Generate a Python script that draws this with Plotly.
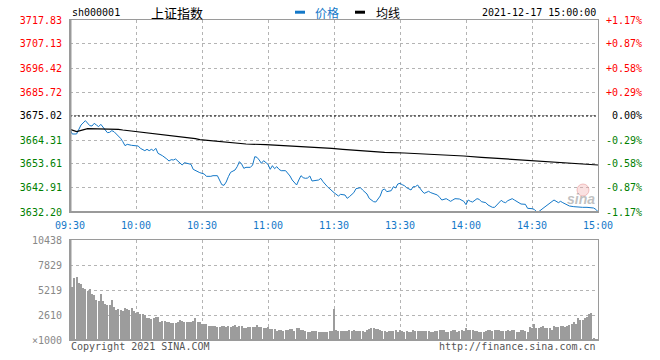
import plotly.graph_objects as go

# ---------------- data ----------------
pre_close = 3675.02
price_ticks = [3632.20, 3642.91, 3653.61, 3664.31, 3675.02, 3685.72, 3696.42, 3707.13, 3717.83]
pct_labels = ["-1.17%", "-0.87%", "-0.58%", "-0.29%", "0.00%", "+0.29%", "+0.58%", "+0.87%", "+1.17%"]
time_ticks = [0, 30, 60, 90, 120, 150, 180, 210, 240]
time_labels = ["09:30", "10:00", "10:30", "11:00", "11:30", "13:30", "14:00", "14:30", "15:00"]
vol_ticks = [0, 2610, 5219, 7829, 10438]
vol_labels = ["×1000", "2610", "5219", "7829", "10438"]

price_min = [0,1,3,4,5,7,8,9,10,11,12,13,14,15,16,17,18,19,20,21,22,23,24,25,26,28,31,32,34,35,36,37,38,39,40,42,44,45,46,47,48,50,51,52,54,55,56,58,
             59,61,62,64,65,67,68,69,70,71,72,73,75,76,77,78,79,80,82,83,84,85,86,87,88,90,91,92,93,94,95,96,98,99,100,101,103,104,105,106,107,108,109,110,112,113,114,115,117,118,119,120,
             122,123,125,126,127,129,130,132,133,135,136,138,139,141,142,143,144,146,147,148,149,150,151,152,153,155,156,157,158,159,160,161,162,163,164,165,167,168,169,170,171,172,173,174,175,177,178,179,180,181,
             182,183,185,186,187,189,190,192,193,195,196,197,198,199,201,202,204,205,207,208,210,211,212,213,215,217,218,219,220,222,223,224,225,227,229,230,233,235,236,238,239,240]
price_val = [3669.22,3666.99,3666.99,3668.77,3671.00,3672.93,3672.04,3670.70,3670.55,3671.74,3671.00,3670.26,3671.30,3669.96,3669.07,3667.58,3667.73,3668.47,3668.03,3666.99,3666.39,3665.05,3663.57,3661.78,3662.38,3661.93,3661.64,3660.59,3659.55,3660.15,3659.55,3660.15,3659.55,3660.59,3658.36,3657.32,3655.84,3654.94,3655.54,3655.39,3655.84,3654.20,3653.16,3654.20,3653.76,3653.46,3651.23,3650.19,
             3649.74,3649.15,3648.11,3648.11,3648.40,3648.40,3646.47,3644.39,3644.09,3645.58,3647.96,3649.89,3650.93,3652.42,3654.65,3653.61,3651.67,3652.12,3652.12,3653.16,3656.88,3656.58,3655.39,3653.90,3655.09,3653.46,3651.23,3652.86,3651.53,3652.42,3651.23,3650.63,3650.63,3649.44,3648.26,3646.47,3644.24,3646.47,3648.40,3647.51,3647.21,3647.36,3648.26,3646.03,3646.17,3646.47,3647.21,3645.73,3643.50,3642.46,3641.71,3640.82,
             3639.33,3640.08,3639.78,3638.29,3639.04,3640.82,3642.60,3643.05,3642.01,3640.23,3638.29,3636.81,3636.66,3639.33,3642.01,3642.46,3641.27,3641.71,3643.50,3642.90,3644.69,3644.98,3644.39,3643.94,3643.05,3642.01,3643.50,3643.50,3644.24,3642.75,3641.56,3640.52,3640.82,3641.42,3640.82,3640.52,3639.78,3638.74,3637.55,3637.85,3638.15,3637.55,3636.96,3637.55,3638.15,3638.00,3637.55,3636.96,3635.47,3637.55,
             3636.96,3636.66,3638.15,3637.85,3636.81,3636.36,3635.32,3634.28,3634.28,3636.07,3637.40,3636.66,3636.36,3637.25,3638.15,3637.55,3636.51,3635.77,3635.62,3633.84,3633.69,3633.39,3632.40,3632.30,3633.84,3635.32,3635.77,3636.66,3637.55,3636.36,3636.96,3636.36,3635.77,3634.88,3634.58,3634.43,3634.28,3634.28,3634.13,3633.98,3633.39,3632.36]

avg_min = [0,3,8,17,22,24,28,31,35,40,45,49,54,57,59,64,68,74,80,89,95,100,108,117,119,124,130,137,143,152,162,171,179,187,194,203,211,216,223,228,234,240]
avg_val = [3669.07,3668.03,3669.37,3669.37,3669.07,3668.77,3668.32,3667.73,3667.28,3666.84,3666.24,3665.80,3665.35,3664.91,3664.46,3664.01,3663.42,3662.97,3662.53,3662.23,3661.93,3661.49,3661.19,3660.89,3660.59,3660.15,3659.70,3659.26,3658.81,3658.51,3658.07,3657.77,3657.17,3656.58,3656.13,3655.69,3655.09,3654.65,3654.20,3653.90,3653.61,3653.16]

vol_am = [6575,5532,6506,6610,5914,5845,5392,5288,5114,5323,4801,4697,4175,4070,4801,4070,3723,3688,3618,4175,
          3444,3096,3201,3131,3027,3375,3235,3096,3305,3027,2783,2888,2748,2679,2609,2261,2261,2157,2331,2401,
          2366,1913,1983,1983,1913,1844,1774,1774,1774,1844,2087,1983,1913,1844,1913,1844,2018,2261,1913,1844,
          1705,1705,1635,1496,1461,1496,1461,1357,1357,1496,1496,1392,1461,1392,1461,1566,1392,1496,1496,1287,
          1287,1357,1357,1392,1357,1566,1392,1392,1218,1287,1392,1113,1148,1113,939,1009,1044,939,1009,1009,
          1148,1148,939,1218,1218,1009,1009,939,800,870,939,939,939,800,800,870,800,800,939,939]
vol_pm = [3235,1009,939,939,939,939,939,1044,939,1009,939,939,939,939,870,1044,1148,1218,1287,1148,
          1148,1044,939,939,870,939,939,939,1009,870,1009,939,870,939,870,870,1009,939,939,939,
          939,939,939,939,870,800,939,939,1044,1009,1009,870,870,939,1009,1078,870,939,1009,939,
          1218,1078,1009,1009,939,939,870,870,870,939,1009,1009,939,1009,1078,1009,939,939,939,1009,
          939,1009,1044,800,870,1009,1009,939,870,1357,1287,1635,1218,1287,1392,1496,1218,1287,1218,1078,
          1426,1392,1357,1426,1496,1392,1496,1566,1635,1844,1705,2261,2053,2087,2261,2401,2679,2818,174,0,0]
vol_val = vol_am + vol_pm
vol_min = list(range(len(vol_val)))

# ---------------- style ----------------
MONO = "DejaVu Sans Mono"
BLUE = "#1478c8"
GRID = "#b4b4b4"
AXIS = "#9a9a9a"
RED = "#ff0000"
GREEN = "#008000"

def pcol(v):
    if abs(v - pre_close) < 0.005:
        return "#000000"
    return RED if v > pre_close else GREEN

left_text = ['<span style="color:%s">%.2f</span>' % (pcol(v), v) for v in price_ticks]
right_text = ['<span style="color:%s">%s</span>' % (pcol(v), ("\u00a0" + t if len(t) == 5 else t))
              for v, t in zip(price_ticks, pct_labels)]

fig = go.Figure()
fig.add_trace(go.Scatter(x=price_min, y=price_val, mode="lines", line=dict(color=BLUE, width=1),
                         xaxis="x", yaxis="y", hoverinfo="skip"))
fig.add_trace(go.Scatter(x=avg_min, y=avg_val, mode="lines", line=dict(color="#000000", width=1.2),
                         xaxis="x", yaxis="y", hoverinfo="skip"))
fig.add_trace(go.Bar(x=vol_min, y=vol_val, width=0.42, marker=dict(color="#9c9c9c", line=dict(width=0)),
                     xaxis="x2", yaxis="y2", hoverinfo="skip"))

W, H, L, R, T, B = 660, 360, 70, 62, 20, 20
PW, PH = W - L - R, H - T - B

def px(x):
    return (x - L) / PW

def py(y):
    return (H - B - y) / PH

common_x = dict(range=[0, 240], tickvals=time_ticks, showgrid=True, gridcolor=GRID, griddash="dot",
                gridwidth=1, showline=True, linecolor=AXIS, linewidth=1, mirror=True, zeroline=False,
                automargin=False, fixedrange=True)

fig.update_layout(
    template="none",
    width=W, height=H, autosize=False,
    margin=dict(l=L, r=R, t=T, b=B, pad=0),
    paper_bgcolor="white", plot_bgcolor="white",
    showlegend=False,
    bargap=0,
    xaxis=dict(common_x, domain=[0, 1], anchor="y", ticktext=time_labels,
               tickfont=dict(family=MONO, size=10, color=BLUE), ticks="outside", ticklen=4,
               tickcolor="rgba(0,0,0,0)"),
    xaxis2=dict(common_x, domain=[0, 1], anchor="y2", matches="x", showticklabels=False, ticks=""),
    yaxis=dict(domain=[py(212), 1], anchor="x", range=[price_ticks[0], price_ticks[-1]],
               tickvals=price_ticks, ticktext=left_text, tickfont=dict(family=MONO, size=10),
               showgrid=True, gridcolor=GRID, griddash="dot", gridwidth=1, showline=True,
               linecolor=AXIS, linewidth=1, mirror=True, zeroline=False, ticks="outside", ticklen=5,
               tickcolor="rgba(0,0,0,0)", automargin=False, fixedrange=True),
    yaxis3=dict(overlaying="y", side="right", anchor="x", range=[price_ticks[0], price_ticks[-1]],
                tickvals=price_ticks, ticktext=right_text, tickfont=dict(family=MONO, size=10),
                showgrid=False, zeroline=False, showline=False, ticks="outside", ticklen=5,
                tickcolor="rgba(0,0,0,0)", automargin=False, fixedrange=True),
    yaxis2=dict(domain=[0, py(240)], anchor="x2", range=[vol_ticks[0], vol_ticks[-1]],
                tickvals=vol_ticks, ticktext=vol_labels, tickfont=dict(family=MONO, size=10, color="#888888"),
                showgrid=True, gridcolor=GRID, griddash="dot", gridwidth=1, showline=True,
                linecolor=AXIS, linewidth=1, mirror=True, zeroline=False, ticks="outside", ticklen=5,
                tickcolor="rgba(0,0,0,0)", automargin=False, fixedrange=True),
)
# dummy trace to activate yaxis3
fig.add_trace(go.Scatter(x=[None], y=[None], xaxis="x", yaxis="y3", hoverinfo="skip"))

shapes = [
    dict(type="line", xref="x", yref="y", x0=0, x1=240, y0=pre_close, y1=pre_close,
         line=dict(color="#000000", width=1, dash="2px,2px")),
    # thicker left / bottom frame edges
    dict(type="line", xref="paper", yref="paper", x0=px(70.5), x1=px(70.5), y0=py(212), y1=1,
         line=dict(color=AXIS, width=2)),
    dict(type="line", xref="paper", yref="paper", x0=0, x1=1, y0=py(212), y1=py(212),
         line=dict(color=AXIS, width=2)),
    dict(type="line", xref="paper", yref="paper", x0=px(70.5), x1=px(70.5), y0=0, y1=py(240),
         line=dict(color=AXIS, width=2)),
    dict(type="line", xref="paper", yref="paper", x0=0, x1=1, y0=0, y1=0,
         line=dict(color=AXIS, width=2)),
    # legend keys
    dict(type="rect", xref="paper", yref="paper", x0=px(295), x1=px(305), y0=py(13.7), y1=py(10.7),
         fillcolor=BLUE, line=dict(width=0)),
    dict(type="rect", xref="paper", yref="paper", x0=px(355), x1=px(365), y0=py(13.7), y1=py(10.7),
         fillcolor="#000000", line=dict(width=0)),
    # watermark eye
    dict(type="circle", xref="paper", yref="paper", x0=px(577), x1=px(589), y0=py(196), y1=py(184),
         fillcolor="rgba(240,170,170,0.35)", line=dict(color="rgba(230,140,140,0.5)", width=1)),
]
fig.update_layout(shapes=shapes)

def ann(text, x, y, xanchor="left", size=10, color="#000000", family=MONO, **kw):
    fig.add_annotation(text=text, xref="paper", yref="paper", x=px(x), y=py(y), xanchor=xanchor,
                       yanchor="middle", showarrow=False, font=dict(family=family, size=size, color=color), **kw)

ann("sh000001", 70, 13)
ann("上证指数", 177, 12.5, xanchor="center", size=13, family="Noto Sans CJK SC")
ann("价格", 313, 12.5, size=12, color=BLUE, family="Noto Sans CJK SC")
ann("均线", 374, 12.5, size=12, family="Noto Sans CJK SC")
ann("2021-12-17 15:00:00", 598, 12.5, xanchor="right")
ann("Copyright 2021 SINA.COM", 69, 346, color="#555555")
ann("http://finance.sina.com.cn", 598, 346, xanchor="right", color="#555555")
ann("<b><i>sina</i></b>", 581, 199, xanchor="center", size=14, color="rgba(140,140,140,0.55)",
    family="Liberation Sans")

fig.write_html("out.html")
